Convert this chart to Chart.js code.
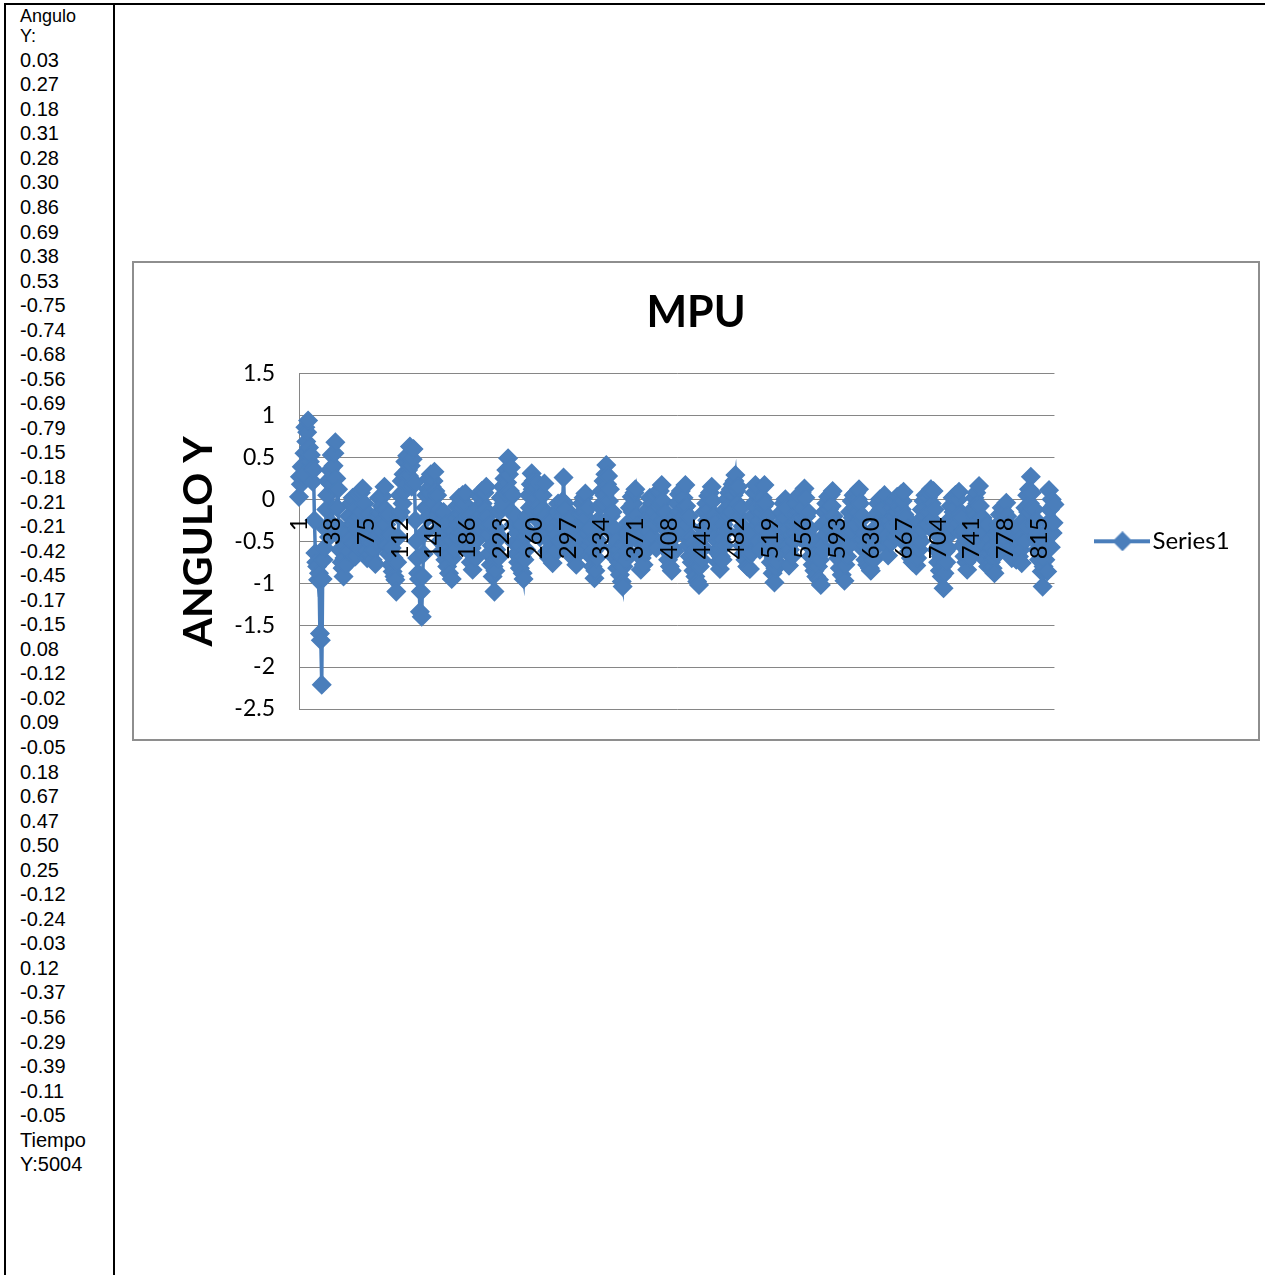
<!DOCTYPE html>
<html>
<head>
<meta charset="utf-8">
<title>MPU</title>
<script src="https://cdn.jsdelivr.net/npm/chart.js@4.4.0/dist/chart.umd.min.js"></script>
<style>
  body { margin: 0; background: #fff; width: 1265px; height: 1275px; overflow: hidden; position: relative; font-family: "Liberation Sans", Arial, sans-serif; color: #000; }
  #linea { position: absolute; left: 4px; top: 3px; width: 1265px; height: 2px; background: #000; }
  #col { position: absolute; left: 4px; top: 3px; width: 111px; height: 1300px; box-sizing: border-box; border-left: 2px solid #000; border-right: 2px solid #000; padding-left: 14px; }
  #cab { font-size: 18px; line-height: 20px; margin-top: 3px; }
  #lista { font-size: 20px; line-height: 24.55px; margin-top: 1.7px; }
  #caja { position: absolute; left: 132px; top: 261px; width: 1128px; height: 480px; box-sizing: border-box; border: 2px solid #8e8e8e; background: #fff; }
  #grafica { display: block; }
</style>
</head>
<body>
<div id="linea"></div>
<div id="col">
  <div id="cab">Angulo<br>Y:</div>
  <div id="lista"></div>
</div>
<div id="caja"><canvas id="grafica" width="1124" height="476"></canvas></div>
<script>
// lecturas mostradas en la columna
var anguloTexto = ['0.03','0.27','0.18','0.31','0.28','0.30','0.86','0.69','0.38','0.53',
  '-0.75','-0.74','-0.68','-0.56','-0.69','-0.79','-0.15','-0.18','-0.21','-0.21',
  '-0.42','-0.45','-0.17','-0.15','0.08','-0.12','-0.02','0.09','-0.05','0.18',
  '0.67','0.47','0.50','0.25','-0.12','-0.24','-0.03','0.12','-0.37','-0.56',
  '-0.29','-0.39','-0.11','-0.05'];
var tiempoTexto = ['Tiempo', 'Y:5004'];

// angulo Y del MPU, una muestra por punto
var valores = [
  0.03, 0.27, 0.18, 0.39, 0.28, 0.30, 0.55, 0.86, 0.69, 0.80, 0.94, 0.62, 0.45, 0.53, 0.38, 0.21,
  0.35, -0.25, -0.64, -0.75, -0.80, -0.96, -0.88, -1.60, -1.68, -2.21, -0.95, -0.72, -0.58, -0.35, -0.12, 0.05,
  0.22, -0.45, 0.35, 0.18, 0.53, -0.30, 0.40, 0.55, 0.68, 0.25, -0.10, 0.12, -0.42, -0.60, -0.35, -0.75,
  -0.82, -0.92, -0.70, -0.55, -0.78, -0.40, -0.62, -0.20, -0.48, -0.05, -0.30, 0.02, -0.52, -0.25, -0.68, -0.10,
  -0.35, 0.05, -0.22, -0.58, 0.08, -0.15, 0.13, -0.40, -0.05, -0.62, -0.30, -0.70, -0.45, -0.18, -0.66, -0.52,
  -0.28, -0.72, -0.60, -0.35, -0.77, -0.50, -0.20, -0.42, 0.02, -0.15, -0.38, -0.08, 0.04, -0.25, 0.15, -0.12,
  -0.30, -0.55, -0.18, -0.65, -0.42, -0.78, -0.58, -0.86, -0.70, -0.92, -0.96, -1.10, -0.75, -0.45, -0.20, 0.05,
  -0.15, 0.22, -0.05, 0.30, 0.10, 0.45, 0.18, 0.52, 0.35, 0.28, 0.63, 0.40, 0.15, 0.48, 0.60, 0.20,
  -0.25, -0.50, -0.70, -0.88, -0.95, -1.34, -1.10, -1.40, -0.92, -0.65, -0.40, -0.10, 0.05, -0.22, 0.12, 0.25,
  0.08, 0.30, 0.15, -0.05, 0.22, 0.33, 0.10, -0.20, 0.05, -0.35, -0.12, -0.50, -0.28, -0.62, -0.40, -0.15,
  -0.55, -0.72, -0.30, -0.80, -0.58, -0.88, -0.66, -0.48, -0.95, -0.70, -0.38, -0.60, -0.22, -0.45, -0.08, -0.30,
  0.02, -0.18, -0.40, -0.10, 0.05, -0.25, -0.05, 0.07, -0.32, -0.55, -0.20, -0.62, -0.45, -0.75, -0.58, -0.84,
  -0.66, -0.40, -0.70, -0.25, -0.48, -0.10, -0.35, 0.03, -0.18, 0.10, -0.05, -0.28, 0.08, -0.12, 0.15, -0.20,
  -0.42, -0.65, -0.30, -0.78, -0.55, -0.92, -0.80, -1.10, -0.85, -0.60, -0.35, -0.70, -0.15, -0.45, 0.02, -0.10,
  0.15, -0.05, 0.25, 0.08, 0.35, 0.20, 0.49, 0.30, 0.10, 0.38, -0.15, 0.05, -0.30, -0.52, -0.20, -0.65,
  -0.40, -0.75, -0.55, -0.82, -0.30, -0.68, -0.88, -0.95, -0.72, -0.45, -0.60, -0.20, -0.38, 0.05, -0.10, 0.18,
  0.31, 0.12, 0.22, -0.05, 0.15, 0.02, 0.20, -0.25, -0.08, -0.45, -0.15, -0.35, 0.05, -0.12, 0.19, -0.20,
  -0.40, -0.62, -0.30, -0.70, -0.50, -0.25, -0.68, -0.76, -0.55, -0.35, -0.60, -0.15, -0.42, -0.05, -0.28, -0.50,
  -0.20, -0.10, -0.02, 0.26, -0.05, -0.30, -0.12, -0.45, -0.25, -0.58, -0.38, -0.65, -0.22, -0.50, -0.70, -0.40,
  -0.62, -0.78, -0.55, -0.32, -0.60, -0.18, -0.45, -0.05, -0.30, 0.02, -0.15, 0.07, -0.22, -0.40, -0.10, -0.55,
  -0.35, -0.68, -0.50, -0.80, -0.62, -0.94, -0.85, -0.70, -0.48, -0.25, -0.55, -0.08, -0.30, 0.10, -0.05, 0.22,
  0.05, 0.30, 0.41, 0.18, 0.28, -0.02, 0.12, -0.20, -0.40, -0.15, -0.58, -0.35, -0.70, -0.50, -0.82, -0.60,
  -0.75, -0.90, -0.68, -0.98, -1.04, -0.80, -0.55, -0.72, -0.40, -0.62, -0.28, -0.48, -0.10, -0.32, 0.03, -0.15,
  -0.05, 0.08, 0.12, -0.20, -0.45, -0.30, -0.65, -0.50, -0.84, -0.70, -0.55, -0.78, -0.40, -0.62, -0.25, -0.50,
  -0.12, -0.38, 0.02, -0.20, -0.05, -0.45, -0.15, 0.05, -0.30, -0.58, -0.22, 0.08, -0.10, 0.10, -0.05, 0.17,
  -0.02, -0.25, -0.48, -0.15, -0.60, -0.38, -0.72, -0.55, -0.80, -0.66, -0.85, -0.58, -0.35, -0.62, -0.20, -0.42,
  -0.05, -0.28, 0.06, -0.15, 0.10, -0.22, -0.40, 0.02, -0.10, 0.17, -0.08, -0.30, -0.55, -0.20, -0.68, -0.45,
  -0.75, -0.52, -0.85, -0.62, -0.92, -0.78, -0.98, -0.70, -1.02, -0.80, -0.55, -0.72, -0.35, -0.58, -0.15, -0.40,
  -0.05, -0.25, 0.04, -0.12, 0.08, -0.30, 0.15, -0.02, -0.20, -0.45, -0.28, -0.62, -0.50, -0.75, -0.60, -0.83,
  -0.68, -0.48, -0.72, -0.30, -0.55, -0.12, -0.38, 0.00, -0.20, 0.08, -0.08, 0.12, -0.15, 0.18, 0.05, 0.22,
  0.29, 0.10, -0.05, 0.15, -0.20, -0.40, -0.10, -0.55, -0.32, -0.65, -0.45, -0.72, -0.58, -0.80, -0.62, -0.48,
  -0.83, -0.65, -0.40, -0.20, -0.05, 0.08, 0.17, -0.10, -0.30, -0.50, -0.25, -0.60, -0.15, -0.35, 0.02, -0.08,
  0.17, -0.05, -0.28, -0.48, -0.20, -0.62, -0.40, -0.75, -0.58, -0.88, -0.70, -0.99, -0.82, -0.60, -0.75, -0.45,
  -0.62, -0.30, -0.50, -0.15, -0.38, -0.05, -0.22, 0.00, -0.10, -0.35, -0.55, -0.79, -0.60, -0.42, -0.68, -0.30,
  -0.50, -0.18, -0.40, -0.05, -0.28, 0.04, -0.15, -0.45, -0.22, 0.08, -0.10, -0.32, 0.13, 0.02, -0.20, -0.40,
  -0.15, -0.55, -0.35, -0.68, -0.48, -0.78, -0.60, -0.85, -0.70, -0.92, -0.62, -0.80, -0.96, -0.72, -1.02, -0.55,
  -0.30, -0.62, -0.15, -0.42, -0.05, -0.25, 0.03, -0.12, -0.35, 0.06, -0.08, 0.10, -0.20, -0.45, -0.28, -0.58,
  -0.40, -0.70, -0.52, -0.82, -0.65, -0.90, -0.75, -0.60, -0.97, -0.78, -0.50, -0.68, -0.32, -0.55, -0.15, -0.38,
  -0.02, -0.22, 0.05, -0.10, -0.30, 0.08, -0.15, 0.00, 0.12, -0.05, -0.25, -0.48, -0.20, -0.60, -0.40, -0.72,
  -0.55, -0.78, -0.62, -0.45, -0.82, -0.85, -0.68, -0.50, -0.72, -0.35, -0.58, -0.18, -0.40, -0.05, -0.25, 0.00,
  -0.12, -0.30, 0.02, -0.10, 0.05, -0.35, -0.55, -0.42, -0.67, -0.48, -0.25, -0.52, -0.10, -0.32, -0.02, -0.20,
  -0.45, -0.15, 0.03, -0.28, -0.08, -0.40, 0.06, -0.12, -0.02, 0.09, -0.18, -0.38, -0.22, -0.55, -0.35, -0.62,
  -0.48, -0.70, -0.55, -0.75, -0.40, -0.65, -0.52, -0.79, -0.70, -0.45, -0.60, -0.28, -0.50, -0.12, -0.35, -0.02,
  -0.20, 0.05, -0.10, -0.30, 0.02, -0.15, 0.08, 0.12, -0.05, -0.25, 0.10, -0.12, -0.40, -0.60, -0.35, -0.75,
  -0.55, -0.85, -0.68, -0.92, -0.80, -1.06, -0.88, -0.62, -0.75, -0.45, -0.58, -0.25, -0.40, -0.08, -0.30, 0.02,
  -0.15, -0.35, 0.05, -0.10, -0.28, 0.00, 0.09, -0.18, -0.40, -0.22, -0.55, -0.38, -0.68, -0.50, -0.75, -0.84,
  -0.62, -0.45, -0.70, -0.30, -0.55, -0.12, -0.38, 0.02, -0.20, 0.08, -0.05, -0.25, 0.16, -0.08, -0.30, -0.50,
  -0.22, -0.62, -0.40, -0.72, -0.55, -0.30, -0.80, -0.65, -0.48, -0.75, -0.58, -0.82, -0.70, -0.88, -0.60, -0.42,
  -0.65, -0.30, -0.52, -0.18, -0.40, -0.10, -0.28, -0.45, -0.15, -0.35, -0.04, -0.20, -0.50, -0.30, -0.62, -0.42,
  -0.70, -0.55, -0.38, -0.65, -0.48, -0.72, -0.58, -0.35, -0.68, -0.52, -0.60, -0.76, -0.45, -0.25, -0.50, -0.10,
  -0.32, 0.05, -0.15, 0.12, -0.05, 0.27, 0.08, -0.10, -0.30, -0.12, -0.45, -0.25, -0.60, -0.40, -0.72, -0.55,
  -0.72, -0.86, -1.04, -0.80, -0.57, -0.72, -0.40, -0.86, -0.28, 0.11, -0.12, -0.57, 0.00, -0.40, -0.28, -0.06
];
var muestras = valores.map(function (v, i) { return String(i + 1); });
var ticksX = ['1','38','75','112','149','186','223','260','297','334','371','408',
  '445','482','519','556','593','630','667','704','741','778','815'];

var azul = '#4A7EBB';
var gris = '#868686';
var fuente = 'Lato';

document.getElementById('lista').innerHTML = anguloTexto.concat(tiempoTexto).join('<br>');

// icono de la leyenda: linea con rombo
var icono = document.createElement('canvas');
icono.width = 56;
icono.height = 20;
var ic = icono.getContext('2d');
ic.strokeStyle = azul;
ic.lineWidth = 4;
ic.beginPath(); ic.moveTo(0, 10); ic.lineTo(56, 10); ic.stroke();
ic.fillStyle = azul;
ic.beginPath(); ic.moveTo(28, 0); ic.lineTo(38, 10); ic.lineTo(28, 20); ic.lineTo(18, 10); ic.closePath(); ic.fill();

// la leyenda ocupa todo el margen derecho: se rellena el texto con espacios
var medida = document.createElement('canvas').getContext('2d');
medida.font = '24px ' + fuente;
var textoLeyenda = 'Series1';
while (medida.measureText(textoLeyenda).width < 95) { textoLeyenda += '\u00a0'; }

new Chart(document.getElementById('grafica'), {
  type: 'line',
  data: {
    labels: muestras,
    datasets: [{
      label: 'Series1',
      data: valores,
      borderColor: azul,
      backgroundColor: azul,
      borderWidth: 3.5,
      pointStyle: 'rectRot',
      pointRadius: 9,
      pointBorderWidth: 1.5,
      pointBackgroundColor: azul,
      pointBorderColor: azul,
      tension: 0,
      clip: false
    }]
  },
  options: {
    responsive: false,
    animation: false,
    events: [],
    layout: { padding: { left: 0, top: 0, right: 0, bottom: 30 } },
    plugins: {
      title: {
        display: true, text: 'MPU', color: '#000',
        font: { family: fuente, size: 43, weight: 'bold', lineHeight: 1.2 },
        padding: { top: 24, bottom: 35 }
      },
      legend: {
        position: 'right',
        fullSize: false,
        labels: {
          usePointStyle: true,
          pointStyleWidth: 36,
          padding: 50,
          color: '#000',
          font: { family: fuente, size: 24 },
          generateLabels: function () {
            return [{ text: textoLeyenda, pointStyle: icono, fillStyle: azul, strokeStyle: azul, lineWidth: 0, hidden: false, datasetIndex: 0 }];
          }
        }
      },
      tooltip: { enabled: false }
    },
    scales: {
      x: {
        position: { y: 0 },
        grid: { display: false, drawTicks: false },
        border: { color: gris, width: 1 },
        ticks: {
          z: 1,
          autoSkip: false, maxRotation: 90, minRotation: 90, padding: 18,
          color: '#000', font: { family: fuente, size: 24 },
          callback: function (v, i) { return ticksX.indexOf(muestras[i]) >= 0 ? muestras[i] : null; }
        }
      },
      y: {
        min: -2.5, max: 1.5,
        ticks: {
          stepSize: 0.5, padding: 3, color: '#000', font: { family: fuente, size: 23 },
          callback: function (v) { return String(Math.round(v * 10) / 10); }
        },
        grid: { color: gris, tickLength: 21, tickColor: 'rgba(0,0,0,0)' },
        border: { color: gris, width: 1 },
        title: {
          display: true, text: 'ANGULO Y', color: '#000',
          font: { family: fuente, size: 41, weight: 'bold', lineHeight: 1.2 },
          padding: { top: 40, bottom: 0 }
        },
        afterFit: function (s) { s.width = 165; }
      }
    }
  }
});
</script>
</body>
</html>
